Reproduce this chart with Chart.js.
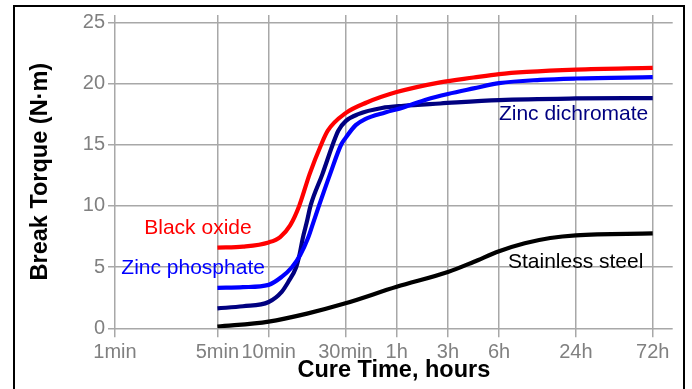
<!DOCTYPE html>
<html>
<head>
<meta charset="utf-8">
<script src="https://cdn.jsdelivr.net/npm/chart.js@4"></script>
<style>
  html, body { margin: 0; padding: 0; background: #fff; }
  #wrap { width: 692px; height: 389px; position: relative; }
</style>
</head>
<body>
<div id="wrap"><canvas id="myChart"></canvas></div>
<script>
// x axis is a stretched time scale, ticks sit at these positions
const tickPos = [0, 4, 6, 9, 11, 13, 15, 18, 21]
const tickLabels = ['1min', '5min', '10min', '30min', '1h', '3h', '6h', '24h', '72h']
const yTicks = [0, 5, 10, 15, 20, 25]

const blackOxideX = [4, 5, 6, 6.45, 6.84, 7.2, 7.6, 8.05, 8.31, 9.02, 9.83, 11, 12.7, 14, 15, 16.08, 18, 21]
const blackOxideY = [6.6, 6.68, 7.02, 7.46, 8.41, 10.04, 12.6, 15.0, 16.15, 17.6, 18.45, 19.3, 20.1, 20.49, 20.77, 20.95, 21.14, 21.28]

const zincPhosX = [4, 5, 6, 6.51, 6.9, 7.23, 7.53, 7.75, 7.97, 8.4, 8.83, 9.02, 9.4, 9.77, 10.55, 11.26, 12.17, 13, 14, 15, 16.6, 18, 21]
const zincPhosY = [3.3, 3.36, 3.55, 4.2, 4.97, 5.97, 7.33, 8.68, 10.04, 12.6, 15.0, 15.6, 16.6, 17.1, 17.64, 18.05, 18.7, 19.15, 19.6, 20.03, 20.3, 20.41, 20.52]

const zincDichX = [4, 5, 6, 6.51, 6.77, 7.07, 7.2, 7.33, 7.49, 7.64, 8.1, 8.5, 8.72, 9.02, 9.5, 10.42, 11.26, 12.7, 15, 18, 21]
const zincDichY = [1.63, 1.8, 2.15, 2.98, 3.8, 4.97, 5.97, 7.33, 8.68, 10.04, 12.6, 15.0, 16.15, 16.95, 17.5, 18.0, 18.18, 18.37, 18.65, 18.78, 18.81]

const stainlessX = [4, 6, 7.5, 9, 11, 13, 14, 15, 16, 17, 18, 21]
const stainlessY = [0.13, 0.55, 1.2, 2.04, 3.39, 4.6, 5.42, 6.3, 6.95, 7.38, 7.6, 7.75]

const seriesNames = ['Black oxide', 'Zinc phosphate', 'Zinc dichromate', 'Stainless steel']
const seriesColors = ['#ff0000', '#0000ff', '#000080', '#000000']
// label anchors in data units (x center, baseline y)
const labelX = [3.24, 3.05, 17.91, 17.99]
const labelY = [7.74, 4.42, 17.04, 4.89]

const FONT = "'Liberation Sans', Arial, sans-serif"
const pts = (xs, ys) => xs.map((x, i) => ({x: x, y: ys[i]}))

const seriesData = [
  pts(blackOxideX, blackOxideY),
  pts(zincPhosX, zincPhosY),
  pts(zincDichX, zincDichY),
  pts(stainlessX, stainlessY),
]

const labelsPlugin = {
  id: 'curveLabels',
  afterDatasetsDraw(chart) {
    const ctx = chart.ctx
    const {x, y} = chart.scales
    ctx.save()
    ctx.font = `21px ${FONT}`
    ctx.textAlign = 'center'
    ctx.textBaseline = 'alphabetic'
    seriesNames.forEach((name, i) => {
      ctx.fillStyle = seriesColors[i]
      ctx.fillText(name, x.getPixelForValue(labelX[i]), y.getPixelForValue(labelY[i]))
    })
    ctx.restore()
  }
}

const framePlugin = {
  id: 'frame',
  afterDraw(chart) {
    const ctx = chart.ctx
    ctx.save()
    ctx.strokeStyle = '#000'
    ctx.lineWidth = 2
    ctx.strokeRect(14, 6, 670, 420)
    ctx.restore()
  }
}

const config = {
  type: 'line',
  data: {
    datasets: seriesData.map((d, i) => ({
      label: seriesNames[i],
      data: d,
      borderColor: seriesColors[i],
      backgroundColor: seriesColors[i],
      borderWidth: 4.2,
      pointRadius: 0,
      cubicInterpolationMode: 'monotone',
      borderCapStyle: 'butt',
      fill: false,
    })),
  },
  options: {
    responsive: true,
    maintainAspectRatio: false,
    devicePixelRatio: 1,
    animation: false,
    layout: { padding: { top: 14, right: 19.3, bottom: 0, left: 0 } },
    plugins: {
      legend: { display: false },
      tooltip: { enabled: false },
    },
    scales: {
      x: {
        type: 'linear',
        min: 0,
        max: 21.78,
        afterBuildTicks: (s) => { s.ticks = tickPos.map((v) => ({value: v})) },
        afterFit: (s) => { s.height = 60.7 },
        ticks: {
          autoSkip: false,
          maxRotation: 0,
          padding: 3,
          color: '#808080',
          font: { family: FONT, size: 20 },
          callback: (v, i) => tickLabels[i],
        },
        grid: { color: '#a8a8a8', lineWidth: 1.5, tickLength: 9 },
        border: { display: false },
        title: {
          display: true,
          text: 'Cure Time, hours',
          color: '#000',
          font: { family: FONT, size: 23.5, weight: 'bold' },
          padding: { top: 0, bottom: 4.5 },
        },
      },
      y: {
        min: 0,
        max: 25.6,
        afterBuildTicks: (s) => { s.ticks = yTicks.map((v) => ({value: v})) },
        afterFit: (s) => { s.width = 115 },
        ticks: {
          padding: 3,
          color: '#808080',
          font: { family: FONT, size: 20 },
        },
        grid: { color: '#a8a8a8', lineWidth: 1.5, tickLength: 7 },
        border: { display: false },
        title: {
          display: true,
          text: 'Break Torque (N·m)',
          color: '#000',
          font: { family: FONT, size: 23.5, weight: 'bold' },
          padding: { top: 26, bottom: 0 },
        },
      },
    },
  },
  plugins: [labelsPlugin, framePlugin],
}

const myChart = new Chart(document.getElementById('myChart'), config)
</script>
</body>
</html>
